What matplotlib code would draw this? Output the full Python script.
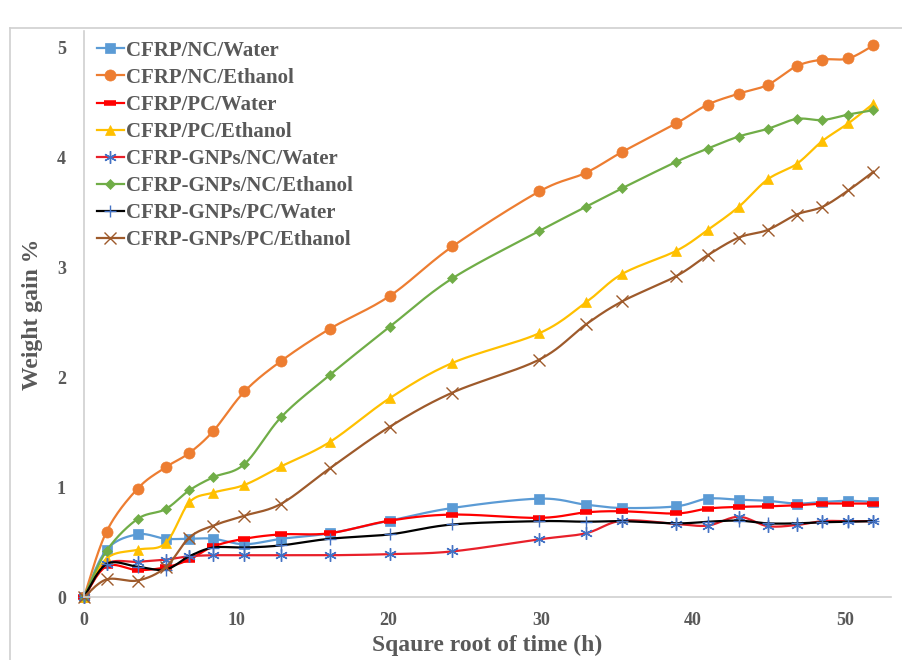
import numpy as np
import matplotlib

matplotlib.use("Agg")
import matplotlib.pyplot as plt
from matplotlib.lines import Line2D

plt.rcParams["font.family"] = ["Liberation Serif", "DejaVu Serif"]
plt.rcParams["font.weight"] = "bold"

# sqrt(time) sample points shared by all specimens
t = [0, 1.48, 3.52, 5.36, 6.91, 8.49, 10.54, 12.97, 16.14, 20.09, 24.2,
     29.9, 32.96, 35.35, 38.9, 40.96, 43.0, 44.9, 46.8, 48.5, 50.2, 51.85]

nc_water = [0, 0.43, 0.57, 0.53, 0.53, 0.53, 0.48, 0.53, 0.58, 0.695, 0.81,
            0.895, 0.84, 0.81, 0.825, 0.895, 0.885, 0.875, 0.85, 0.865, 0.875, 0.865]
nc_ethanol = [0, 0.595, 0.986, 1.18, 1.31, 1.51, 1.87, 2.15, 2.44, 2.74, 3.19,
              3.69, 3.86, 4.05, 4.31, 4.48, 4.58, 4.66, 4.83, 4.89, 4.90, 5.02]
pc_water = [0, 0.28, 0.245, 0.27, 0.34, 0.46, 0.53, 0.57, 0.58, 0.695, 0.75,
            0.72, 0.77, 0.78, 0.76, 0.805, 0.82, 0.825, 0.835, 0.85, 0.85, 0.85]
pc_ethanol = [0, 0.35, 0.43, 0.49, 0.86, 0.95, 1.02, 1.19, 1.41, 1.81, 2.13,
              2.40, 2.68, 2.94, 3.15, 3.34, 3.55, 3.80, 3.94, 4.15, 4.31, 4.49]
gnp_nc_water = [0, 0.30, 0.32, 0.34, 0.37, 0.38, 0.38, 0.38, 0.38, 0.39, 0.415,
                0.525, 0.58, 0.695, 0.665, 0.65, 0.73, 0.645, 0.655, 0.69, 0.69, 0.69]
gnp_nc_ethanol = [0, 0.42, 0.71, 0.80, 0.97, 1.09, 1.21, 1.64, 2.02, 2.46, 2.90,
                  3.33, 3.55, 3.72, 3.96, 4.08, 4.19, 4.26, 4.35, 4.34, 4.39, 4.43]
gnp_pc_water = [0, 0.30, 0.275, 0.25, 0.37, 0.45, 0.45, 0.47, 0.53, 0.57, 0.66,
                0.69, 0.685, 0.69, 0.67, 0.685, 0.695, 0.67, 0.67, 0.68, 0.685, 0.69]
gnp_pc_ethanol = [0, 0.16, 0.15, 0.27, 0.54, 0.65, 0.74, 0.85, 1.17, 1.55, 1.86,
                  2.16, 2.48, 2.69, 2.92, 3.11, 3.27, 3.34, 3.48, 3.55, 3.70, 3.87]

labels = ["CFRP/NC/Water", "CFRP/NC/Ethanol", "CFRP/PC/Water", "CFRP/PC/Ethanol",
          "CFRP-GNPs/NC/Water", "CFRP-GNPs/NC/Ethanol", "CFRP-GNPs/PC/Water",
          "CFRP-GNPs/PC/Ethanol"]
series = [nc_water, nc_ethanol, pc_water, pc_ethanol,
          gnp_nc_water, gnp_nc_ethanol, gnp_pc_water, gnp_pc_ethanol]


def smooth(x, y, n=24):
    # Catmull-Rom style bezier through every point (spreadsheet "smoothed line")
    x = np.asarray(x, float); y = np.asarray(y, float)
    px, py = [], []
    for i in range(len(x) - 1):
        i0, i3 = max(i - 1, 0), min(i + 2, len(x) - 1)
        c1 = (x[i] + (x[i + 1] - x[i0]) / 6, y[i] + (y[i + 1] - y[i0]) / 6)
        c2 = (x[i + 1] - (x[i3] - x[i]) / 6, y[i + 1] - (y[i3] - y[i]) / 6)
        s = np.linspace(0, 1, n, endpoint=False)
        b0, b1, b2, b3 = (1 - s) ** 3, 3 * s * (1 - s) ** 2, 3 * s ** 2 * (1 - s), s ** 3
        px.append(b0 * x[i] + b1 * c1[0] + b2 * c2[0] + b3 * x[i + 1])
        py.append(b0 * y[i] + b1 * c1[1] + b2 * c2[1] + b3 * y[i + 1])
    px.append([x[-1]]); py.append([y[-1]])
    return np.concatenate(px), np.concatenate(py)


# line colour, marker, marker colour, marker size, marker edge width
styles = [
    ("#5B9BD5", "s", "#5B9BD5", 7, 0.5),
    ("#ED7D31", "o", "#ED7D31", 8, 0.5),
    ("#FF0000", "_", "#FF0000", 9, 4.0),
    ("#FFC000", "^", "#FFC000", 7, 0.5),
    ("#E8202A", (6, 2, 0), "#4472C4", 9, 1.0),
    ("#70AD47", "D", "#70AD47", 5.5, 0.5),
    ("#000000", "+", "#4472C4", 9, 1.0),
    ("#9E5A2B", "x", "#9E5A2B", 8, 1.0),
]

fig = plt.figure(figsize=(9.02, 6.6), dpi=100)
ax = fig.add_axes([84 / 902, 1 - 597 / 660, (891 - 84) / 902, (597 - 31) / 660])

handles = []
for ys, lab, (lc, mk, mc, ms, mew) in zip(series, labels, styles):
    sx, sy = smooth(t, ys)
    ax.plot(sx, sy, color=lc, lw=1.6, clip_on=False)
    ax.plot(t, ys, ls="none", marker=mk, color=mc, markersize=ms,
            markeredgewidth=mew, markeredgecolor=mc, clip_on=False)
    handles.append(Line2D([], [], color=lc, lw=1.6, marker=mk, markerfacecolor=mc,
                          markeredgecolor=mc, markersize=ms, markeredgewidth=mew))

ax.set_xlim(0, 53)
ax.set_ylim(0, 5.15)
ax.set_xticks([0, 10, 20, 30, 40, 50])
ax.set_yticks([0, 1, 2, 3, 4, 5])
ax.tick_params(length=0, labelsize=13, labelcolor="#595959")
ax.tick_params(axis="y", pad=13)
ax.tick_params(axis="x", pad=11)
for s in ("top", "right"):
    ax.spines[s].set_visible(False)
for s in ("left", "bottom"):
    ax.spines[s].set_color("#D0D0D0")
    ax.spines[s].set_linewidth(1.2)

ax.set_xlabel("Sqaure root of time (h)", fontsize=17, color="#595959",
              fontweight="bold", labelpad=4)
ax.set_ylabel("Weight gain %", fontsize=17, color="#595959",
              fontweight="bold", labelpad=10)

leg = ax.legend(handles, labels, loc="upper left", bbox_to_anchor=(0.0, 1.005),
                frameon=False, fontsize=15, handlelength=1.3, handletextpad=0.1,
                labelspacing=0.34, borderaxespad=0.2)
for txt in leg.get_texts():
    txt.set_color("#595959")
    txt.set_fontweight("bold")

# outer chart-area border (left and top edges)
fig.add_artist(Line2D([10 / 902, 10 / 902], [0, 1 - 28 / 660], color="#D0D0D0", lw=1.2))
fig.add_artist(Line2D([10 / 902, 1], [1 - 28 / 660, 1 - 28 / 660], color="#D0D0D0", lw=1.2))

fig.savefig("out.png", dpi=100)
